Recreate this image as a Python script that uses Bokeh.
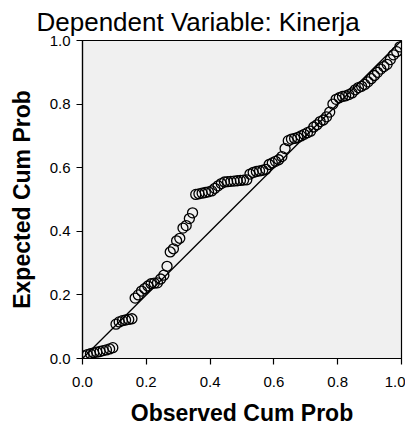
from bokeh.plotting import figure
from bokeh.models import Range1d, Title, FixedTicker, NumeralTickFormatter
from bokeh.embed import file_html
from bokeh.resources import INLINE

observed = [0.005, 0.015, 0.025, 0.035, 0.045, 0.055, 0.065, 0.075, 0.085, 0.095,
            0.105, 0.115, 0.125, 0.135, 0.145, 0.155, 0.165, 0.175, 0.185, 0.195,
            0.205, 0.215, 0.225, 0.235, 0.245, 0.255, 0.265, 0.275, 0.285, 0.295,
            0.305, 0.315, 0.325, 0.335, 0.345, 0.355, 0.365, 0.375, 0.385, 0.395,
            0.405, 0.415, 0.425, 0.435, 0.445, 0.455, 0.465, 0.475, 0.485, 0.495,
            0.505, 0.515, 0.525, 0.535, 0.545, 0.555, 0.565, 0.575, 0.585, 0.595,
            0.605, 0.615, 0.625, 0.635, 0.645, 0.655, 0.665, 0.675, 0.685, 0.695,
            0.705, 0.715, 0.725, 0.735, 0.745, 0.755, 0.765, 0.775, 0.785, 0.795,
            0.805, 0.815, 0.825, 0.835, 0.845, 0.855, 0.865, 0.875, 0.885, 0.895,
            0.905, 0.915, 0.925, 0.935, 0.945, 0.955, 0.965, 0.975, 0.985, 0.995]
expected = [0.008, 0.012, 0.015, 0.018, 0.020, 0.022, 0.025, 0.027, 0.030, 0.034,
            0.108, 0.115, 0.119, 0.121, 0.123, 0.125, 0.190, 0.200, 0.212, 0.220,
            0.228, 0.235, 0.237, 0.238, 0.250, 0.262, 0.290, 0.335, 0.345, 0.370,
            0.378, 0.410, 0.418, 0.440, 0.458, 0.516, 0.518, 0.520, 0.522, 0.524,
            0.527, 0.535, 0.543, 0.550, 0.555, 0.556, 0.557, 0.558, 0.559, 0.560,
            0.561, 0.562, 0.580, 0.585, 0.588, 0.590, 0.592, 0.595, 0.610, 0.615,
            0.620, 0.625, 0.635, 0.660, 0.685, 0.690, 0.692, 0.695, 0.700, 0.705,
            0.710, 0.715, 0.728, 0.735, 0.745, 0.750, 0.760, 0.775, 0.800, 0.815,
            0.820, 0.824, 0.826, 0.830, 0.835, 0.845, 0.852, 0.856, 0.862, 0.870,
            0.880, 0.890, 0.900, 0.910, 0.918, 0.925, 0.940, 0.955, 0.965, 0.980]
diag_x = [0.0, 1.0]
diag_y = [0.0, 1.0]
tick_values = [0.0, 0.2, 0.4, 0.6, 0.8, 1.0]
title_text = "Dependent Variable: Kinerja"
x_label = "Observed Cum Prob"
y_label = "Expected Cum Prob"

FONT = "Liberation Sans"

p = figure(width=405, height=428, output_backend="svg", toolbar_location=None,
           x_range=Range1d(0, 1), y_range=Range1d(0, 1),
           min_border_left=82, min_border_right=4, min_border_top=30, min_border_bottom=68)

p.title = Title(text=title_text, align="left", offset=-46, text_font=FONT,
                text_font_size="26px", text_font_style="normal", text_color="black",
                standoff=8)

p.background_fill_color = "#f0f0f0"
p.border_fill_color = "white"
p.outline_line_color = "black"
p.outline_line_width = 1.2
p.xgrid.visible = False
p.ygrid.visible = False

for ax in (p.xaxis[0], p.yaxis[0]):
    ax.ticker = FixedTicker(ticks=tick_values)
    ax.formatter = NumeralTickFormatter(format="0.0")
    ax.minor_tick_line_color = None
    ax.major_tick_in = 0
    ax.major_tick_out = 6
    ax.major_tick_line_color = "black"
    ax.major_tick_line_width = 1.2
    ax.axis_line_color = "black"
    ax.axis_line_width = 1.2
    ax.major_label_text_font = FONT
    ax.major_label_text_font_size = "15px"
    ax.major_label_text_color = "black"
    ax.axis_label_text_font = FONT
    ax.axis_label_text_font_size = "23px"
    ax.axis_label_text_font_style = "bold"
    ax.axis_label_text_color = "black"

p.xaxis[0].axis_label = x_label
p.yaxis[0].axis_label = y_label
p.xaxis[0].major_label_standoff = 12
p.xaxis[0].axis_label_standoff = 10
p.yaxis[0].major_label_standoff = 6
p.yaxis[0].axis_label_standoff = 12

p.line(diag_x, diag_y, line_color="black", line_width=1.3)
p.scatter(observed, expected, marker="circle", size=10, fill_color=None,
          line_color="black", line_width=1.3)

open("out.html", "w").write(file_html(p, INLINE))
